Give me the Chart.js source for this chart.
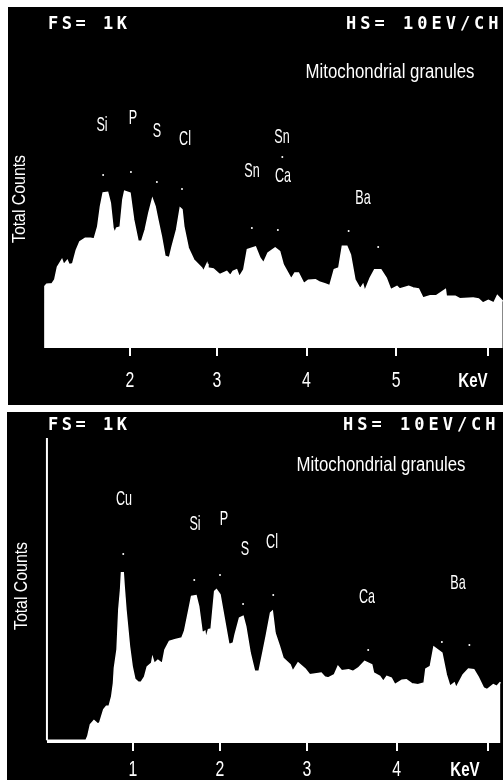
<!DOCTYPE html>
<html>
<head>
<meta charset="utf-8">
<title>Mitochondrial granules</title>
<script src="https://cdn.jsdelivr.net/npm/chart.js@4/dist/chart.umd.min.js"></script>
<style>
  html, body { margin: 0; padding: 0; background: #fff; }
  canvas { position: absolute; background: #000; }
  #topChart { left: 8px; top: 7px; }
  #bottomChart { left: 7px; top: 412px; }
</style>
</head>
<body>
<canvas id="topChart" width="495" height="398"></canvas>
<canvas id="bottomChart" width="496" height="368"></canvas>
<script>
// Upper spectrum (energy in keV, total counts)
const topEnergy = [1.05, 1.05, 1.07, 1.13, 1.16, 1.19, 1.24, 1.26, 1.30, 1.32, 1.36, 1.40, 1.44, 1.50, 1.56, 1.60, 1.64, 1.67, 1.70, 1.75, 1.78, 1.81, 1.83, 1.85, 1.89, 1.92, 1.94, 2.00, 2.04, 2.09, 2.13, 2.17, 2.21, 2.25, 2.28, 2.31, 2.35, 2.39, 2.44, 2.47, 2.52, 2.56, 2.58, 2.60, 2.65, 2.71, 2.80, 2.82, 2.86, 2.87, 2.93, 3.00, 3.08, 3.12, 3.15, 3.19, 3.22, 3.27, 3.31, 3.40, 3.45, 3.49, 3.54, 3.62, 3.67, 3.71, 3.80, 3.84, 3.88, 3.94, 3.99, 4.07, 4.12, 4.18, 4.23, 4.28, 4.33, 4.37, 4.42, 4.46, 4.51, 4.57, 4.60, 4.62, 4.68, 4.73, 4.80, 4.86, 4.91, 4.98, 5.01, 5.11, 5.16, 5.22, 5.27, 5.35, 5.42, 5.52, 5.53, 5.63, 5.68, 5.83, 5.89, 5.94, 6.00, 6.06, 6.10, 6.16];
const topCounts = [0, 185, 191, 193, 205, 243, 265, 250, 263, 250, 253, 293, 319, 329, 329, 327, 365, 425, 465, 467, 435, 360, 345, 360, 363, 445, 470, 465, 385, 320, 320, 355, 405, 447, 425, 385, 335, 275, 271, 305, 355, 420, 415, 365, 300, 265, 240, 230, 253, 240, 237, 220, 230, 217, 230, 235, 213, 235, 295, 303, 270, 255, 285, 300, 290, 250, 207, 225, 225, 193, 203, 205, 197, 192, 187, 235, 240, 305, 305, 280, 205, 177, 190, 170, 210, 235, 235, 210, 175, 185, 177, 185, 180, 177, 150, 157, 157, 175, 155, 155, 148, 150, 147, 135, 143, 135, 157, 140];
const topDotEnergy = [1.70, 2.01, 2.30, 2.58, 3.36, 3.65, 3.70, 4.44, 4.77];
const topDotCounts = [519, 528, 498, 477, 360, 354, 573, 351, 303];
// the printed ticks are not quite evenly spaced, so these are read off the photo
const topTicks = [2, 2.97, 3.97, 4.97, 6];
const topTickLabels = ["2", "3", "4", "5", ""];

// Lower spectrum
const bottomEnergy = [0.03, 0.47, 0.49, 0.52, 0.56, 0.61, 0.63, 0.67, 0.70, 0.73, 0.76, 0.78, 0.79, 0.82, 0.84, 0.86, 0.87, 0.89, 0.90, 0.92, 0.96, 0.99, 1.02, 1.06, 1.09, 1.13, 1.16, 1.21, 1.22, 1.24, 1.28, 1.33, 1.36, 1.41, 1.47, 1.55, 1.58, 1.63, 1.66, 1.71, 1.74, 1.78, 1.81, 1.82, 1.85, 1.88, 1.92, 1.94, 1.98, 2.01, 2.05, 2.08, 2.13, 2.15, 2.20, 2.24, 2.27, 2.32, 2.37, 2.42, 2.47, 2.50, 2.55, 2.57, 2.60, 2.65, 2.69, 2.77, 2.80, 2.86, 2.94, 2.99, 3.07, 3.12, 3.16, 3.20, 3.27, 3.31, 3.35, 3.43, 3.48, 3.54, 3.61, 3.69, 3.71, 3.78, 3.82, 3.86, 3.91, 3.95, 4.03, 4.08, 4.14, 4.21, 4.28, 4.30, 4.35, 4.39, 4.48, 4.53, 4.57, 4.62, 4.64, 4.72, 4.78, 4.84, 4.89, 4.95, 4.99, 5.06, 5.10, 5.14];
const bottomCounts = [8, 8, 20, 55, 67, 55, 65, 100, 110, 110, 140, 180, 225, 280, 400, 460, 511, 511, 470, 400, 290, 230, 192, 182, 182, 198, 228, 240, 255, 238, 248, 238, 280, 305, 310, 315, 335, 400, 440, 442, 410, 330, 335, 312, 340, 342, 455, 460, 445, 400, 340, 295, 300, 325, 375, 380, 350, 270, 215, 215, 280, 320, 390, 395, 330, 290, 255, 235, 215, 240, 222, 205, 208, 210, 198, 195, 205, 230, 217, 220, 215, 225, 245, 235, 210, 200, 185, 200, 195, 175, 188, 190, 178, 175, 180, 222, 230, 288, 270, 205, 170, 180, 165, 205, 222, 220, 198, 165, 160, 175, 170, 182];
const bottomDotEnergy = [0.89, 1.69, 1.98, 2.24, 2.58, 3.65, 4.48, 4.79];
const bottomDotCounts = [567, 489, 504, 417, 444, 279, 303, 294];
const markerEnergy = [0.03, 0.03];
const markerCounts = [915, 8];
const bottomTicks = [1, 1.98, 2.96, 3.97, 5];
const bottomTickLabels = ["1", "2", "3", "4", ""];

const fullScale = 990;
const narrow = '"Liberation Sans Narrow", "Liberation Sans", sans-serif';

function toPoints(xs, ys) {
  return xs.map((x, i) => ({ x: x, y: ys[i] }));
}

// Text on the micrograph: [text, page x, page y, font size, horizontal squeeze, weight]
const topText = [
  ["Mitochondrial granules", 390, 72, 20, 0.84, ""],
  ["Si", 102, 125, 21, 0.6, ""], ["P", 133, 118, 21, 0.6, ""], ["S", 157, 131, 21, 0.6, ""],
  ["Cl", 185, 139, 21, 0.6, ""], ["Sn", 282, 137, 21, 0.6, ""], ["Sn", 252, 171, 21, 0.6, ""],
  ["Ca", 283, 176, 21, 0.6, ""], ["Ba", 363, 198, 21, 0.6, ""], ["KeV", 473, 381, 21, 0.72, "bold "],
];
const bottomText = [
  ["Mitochondrial granules", 381, 465, 20, 0.84, ""],
  ["Cu", 124, 499, 21, 0.6, ""], ["Si", 195, 524, 21, 0.6, ""], ["P", 224, 519, 21, 0.6, ""],
  ["S", 245, 549, 21, 0.6, ""], ["Cl", 272, 542, 21, 0.6, ""], ["Ca", 367, 597, 21, 0.6, ""],
  ["Ba", 458, 583, 21, 0.6, ""], ["KeV", 465, 770, 21, 0.72, "bold "],
];

function textPlugin(originX, originY, items, head, axisY, ticks, tickLabels, tickY) {
  return {
    id: "panelText",
    afterDraw(chart) {
      const c = chart.ctx;
      c.save();
      c.fillStyle = "#fff";
      c.textAlign = "center";
      c.textBaseline = "middle";
      items.forEach(([txt, x, y, size, squeeze, weight]) => {
        c.save();
        c.translate(x - originX, y - originY);
        c.scale(squeeze, 1);
        c.font = weight + size + "px " + narrow;
        c.fillText(txt, 0, 0);
        c.restore();
      });

      // tick numbers are squeezed like the rest, so they are drawn here from the axis
      ticks.forEach((value, i) => {
        c.save();
        c.translate(chart.scales.x.getPixelForValue(value), tickY - originY);
        c.scale(0.72, 1);
        c.font = "22px " + narrow;
        c.fillText(tickLabels[i], 0, 0);
        c.restore();
      });

      // rotated axis title
      c.save();
      c.translate(axisY[0] - originX, axisY[1] - originY);
      c.rotate(-Math.PI / 2);
      c.scale(0.88, 1);
      c.font = "18px " + narrow;
      c.fillText("Total Counts", 0, 0);
      c.restore();

      // analyser readout
      c.font = "bold 17px 'DejaVu Sans Mono', monospace";
      c.textAlign = "left";
      c.letterSpacing = "3.5px";
      c.fillText("FS= 1K", head[0] - originX, head[1] - originY);
      c.letterSpacing = "4px";
      c.fillText("HS= 10EV/CH", head[2] - originX, head[1] - originY);
      c.restore();
    },
  };
}

function makeSpectrum(id, opts) {
  const datasets = [
    {
      data: toPoints(opts.energy, opts.counts),
      borderColor: "#fff",
      backgroundColor: "#fff",
      borderWidth: 1.5,
      pointRadius: 0,
      tension: 0,
      fill: "origin",
    },
    {
      data: toPoints(opts.dotEnergy, opts.dotCounts),
      showLine: false,
      pointRadius: 1,
      pointBackgroundColor: "#fff",
      pointBorderWidth: 0,
    },
  ];
  if (opts.marker) {
    datasets.push({
      data: toPoints(opts.marker[0], opts.marker[1]),
      borderColor: "#fff",
      borderWidth: 2,
      pointRadius: 0,
    });
  }

  return new Chart(document.getElementById(id), {
    type: "line",
    data: { datasets: datasets },
    plugins: [opts.text],
    options: {
      responsive: false,
      animation: false,
      layout: { autoPadding: false, padding: { top: opts.padTop, left: 0, right: 0, bottom: 0 } },
      plugins: { legend: { display: false }, tooltip: { enabled: false } },
      scales: {
        x: {
          type: "linear",
          min: opts.xMin,
          max: opts.xMax,
          border: { display: false },
          grid: { drawOnChartArea: false, drawTicks: true, tickLength: 8, color: "#fff", lineWidth: 2 },
          ticks: {
            autoSkip: false,
            maxRotation: 0,
            callback: () => "",
          },
          afterBuildTicks: (axis) => {
            axis.ticks = opts.ticks.map((v) => ({ value: v }));
          },
          afterFit: (axis) => {
            axis.height = opts.axisHeight;
            axis.paddingLeft = 0;
            axis.paddingRight = 0;
          },
        },
        y: { display: false, min: 0, max: fullScale },
      },
    },
  });
}

makeSpectrum("topChart", {
  energy: topEnergy,
  counts: topCounts,
  dotEnergy: topDotEnergy,
  dotCounts: topDotCounts,
  ticks: topTicks,
  xMin: 0.638,
  xMax: 6.163,
  padTop: 11,
  axisHeight: 57,
  text: textPlugin(8, 7, topText, [48, 25, 346], [20, 199], topTicks, topTickLabels, 381),
});

makeSpectrum("bottomChart", {
  energy: bottomEnergy,
  counts: bottomCounts,
  dotEnergy: bottomDotEnergy,
  dotCounts: bottomDotCounts,
  marker: [markerEnergy, markerCounts],
  ticks: bottomTicks,
  xMin: -0.42,
  xMax: 5.169,
  padTop: 1,
  axisHeight: 37,
  text: textPlugin(7, 412, bottomText, [48, 426, 343], [22, 586], bottomTicks, bottomTickLabels, 770),
});
</script>
</body>
</html>
